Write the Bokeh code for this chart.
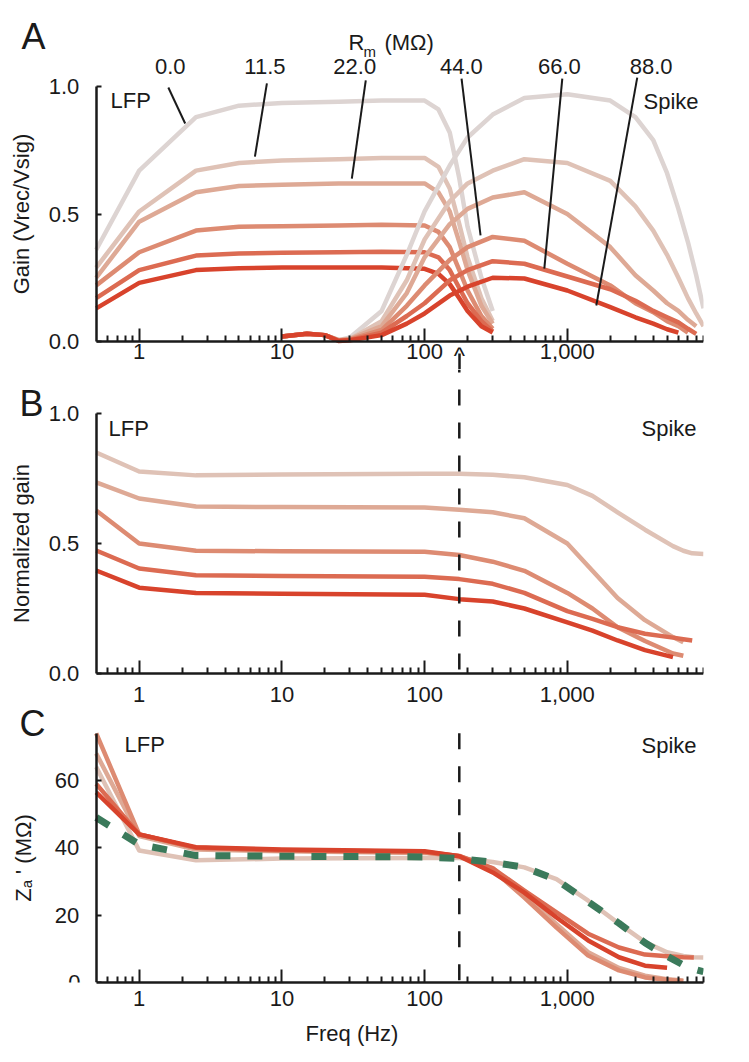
from bokeh.plotting import figure
from bokeh.layouts import column
from bokeh.models import (Range1d, FixedTicker, NumeralTickFormatter, Label, ColumnDataSource,
                          LogAxis, CustomJSTickFormatter)
from bokeh.core.properties import value
from bokeh.embed import file_html
from bokeh.resources import INLINE

nan = float("nan")
FONT = "Liberation Sans"
INK = "#1a1a1a"
FS = "22px"

# ---------------- data ----------------
RM_LABELS = ["0.0", "11.5", "22.0", "44.0", "66.0", "88.0"]
COLORS = ["#ddd4d2", "#dfc2b6", "#dea995", "#dd8b72", "#dc6b52", "#d8432c"]
GREEN = "#3b7a5b"
CUTOFF = 175
X_LEFT, X_RIGHT = 0.1067, 9000
AXIS_X0 = 0.5

X_MAJOR = [1, 10, 100, 1000]
X_MINOR = [0.6, 0.7, 0.8, 0.9, 2, 3, 4, 5, 6, 7, 8, 9, 20, 30, 40, 50, 60, 70, 80, 90,
           200, 300, 400, 500, 600, 700, 800, 900, 2000, 3000, 4000, 5000, 6000, 7000, 8000, 9000]

# Panel A - LFP gain
FREQ_LFP = [0.5, 1, 2.5, 5, 10, 25, 50, 100, 125, 150, 175, 200, 250, 300]
LFP_0_0 = [0.36, 0.67, 0.88, 0.925, 0.935, 0.94, 0.945, 0.945, 0.91, 0.82, 0.64, 0.45, 0.25, 0.12]
LFP_11_5 = [0.29, 0.51, 0.67, 0.70, 0.71, 0.715, 0.72, 0.72, 0.685, 0.60, 0.46, 0.33, 0.17, 0.08]
LFP_22_0 = [0.25, 0.47, 0.585, 0.61, 0.615, 0.62, 0.62, 0.62, 0.585, 0.51, 0.39, 0.28, 0.14, 0.07]
LFP_44_0 = [0.22, 0.35, 0.435, 0.45, 0.452, 0.455, 0.458, 0.455, 0.43, 0.37, 0.28, 0.20, 0.10, 0.05]
LFP_66_0 = [0.17, 0.28, 0.337, 0.345, 0.348, 0.35, 0.352, 0.35, 0.33, 0.28, 0.21, 0.15, 0.08, 0.04]
LFP_88_0 = [0.13, 0.23, 0.28, 0.287, 0.29, 0.29, 0.29, 0.285, 0.265, 0.225, 0.17, 0.12, 0.06, 0.035]

# Panel A - Spike gain
FREQ_SPIKE = [10, 15, 20, 25, 30, 50, 75, 100, 150, 200, 300, 500, 1000, 2000, 3000, 4000,
              5000, 6000, 7000, 8000, 9000]
SPIKE_0_0 = [0.02, 0.03, 0.025, 0.005, 0.016, 0.12, 0.34, 0.51, 0.69, 0.80, 0.89, 0.955, 0.97,
             0.945, 0.88, 0.79, 0.66, 0.52, 0.39, 0.26, 0.13]
SPIKE_11_5 = [0.02, 0.03, 0.025, 0.005, 0.01, 0.08, 0.24, 0.40, 0.55, 0.62, 0.67, 0.715, 0.70,
              0.63, 0.53, 0.435, 0.34, 0.25, 0.17, 0.11, 0.06]
SPIKE_22_0 = [0.02, 0.03, 0.025, 0.005, 0.01, 0.06, 0.19, 0.33, 0.46, 0.52, 0.565, 0.585, 0.50,
              0.37, 0.26, 0.20, 0.15, 0.12, 0.085, 0.06, nan]
SPIKE_44_0 = [0.02, 0.03, 0.025, 0.004, 0.008, 0.045, 0.14, 0.22, 0.32, 0.37, 0.41, 0.395, 0.305,
              0.22, 0.15, 0.115, 0.08, 0.06, 0.035, nan, nan]
SPIKE_66_0 = [0.02, 0.03, 0.025, 0.003, 0.006, 0.035, 0.10, 0.15, 0.24, 0.28, 0.315, 0.305, 0.255,
              0.205, 0.16, 0.12, 0.095, 0.075, 0.05, 0.03, nan]
SPIKE_88_0 = [0.02, 0.03, 0.025, 0.002, 0.005, 0.025, 0.07, 0.11, 0.18, 0.215, 0.25, 0.247, 0.20,
              0.135, 0.095, 0.07, 0.048, 0.035, nan, nan, nan]

# Panel A - R_m annotations (label position and leader line ends)
RM_TEXT_FREQ = [1.65, 7.6, 32.4, 181, 879, 3866]
RM_TEXT_Y = 1.078
LEAD_X0 = [1.6, 7.85, 38.7, 181.5, 922, 3090]
LEAD_Y0 = [0.996, 1.012, 1.024, 1.031, 1.031, 1.035]
LEAD_X1 = [2.1, 6.47, 30.9, 246.6, 690, 1596]
LEAD_Y1 = [0.855, 0.725, 0.639, 0.416, 0.286, 0.141]

# Panel B - normalized gain
FREQ_NORM = [0.5, 1, 2.5, 10, 100, 175, 300, 500, 1000, 1500, 2250, 3500, 5500, 6500, 7500, 9000]
NORM_11_5 = [0.85, 0.777, 0.762, 0.765, 0.768, 0.768, 0.764, 0.755, 0.725, 0.683, 0.62, 0.553,
             0.49, 0.472, 0.462, 0.46]
NORM_22_0 = [0.735, 0.673, 0.642, 0.64, 0.638, 0.63, 0.62, 0.597, 0.50, 0.395, 0.29, 0.205,
             0.14, 0.12, nan, nan]
NORM_44_0 = [0.627, 0.50, 0.472, 0.47, 0.468, 0.456, 0.43, 0.395, 0.31, 0.25, 0.178, 0.125,
             0.077, 0.068, nan, nan]
NORM_66_0 = [0.473, 0.404, 0.378, 0.375, 0.372, 0.363, 0.345, 0.31, 0.24, 0.21, 0.178, 0.153,
             0.138, 0.132, 0.127, nan]
NORM_88_0 = [0.396, 0.33, 0.31, 0.307, 0.303, 0.286, 0.277, 0.25, 0.197, 0.165, 0.127, 0.09,
             0.063, nan, nan, nan]

# Panel C - Za'
FREQ_Z = [0.5, 1, 2.5, 10, 100, 175, 300, 500, 840, 1400, 2300, 3500, 5000, 6500, 7700, 9000]
Z_11_5 = [64, 39.2, 36.3, 36.8, 37, 37, 35.8, 34.2, 30.7, 24.3, 17.5, 12.0, 9.0, 7.9, 7.5, 7.4]
Z_22_0 = [68, 43.5, 39.5, 39, 38.5, 37.5, 34, 26, 17.3, 9.0, 4.3, 2.0, 1.0, 0.6, nan, nan]
Z_44_0 = [74, 44, 40, 39.2, 38.6, 37.5, 33.5, 25.2, 16.3, 8.0, 3.6, 1.5, 0.8, 0.4, nan, nan]
Z_66_0 = [59, 44, 40, 39.3, 38.8, 37.6, 33.9, 27.3, 20.8, 14.5, 10.4, 8.3, 7.8, 7.5, 7.4, nan]
Z_88_0 = [56.5, 44, 40.2, 39.5, 39, 37.5, 32.7, 26.7, 19.3, 12.5, 7.5, 5.0, 4.4, nan, nan, nan]
Z_MODEL = [49, 41, 37.7, 37.5, 37.3, 36.8, 35.7, 34.2, 30.5, 24.0, 17.6, 11.8, 7.8, 5.2, 4.0, 3.2]


# ---------------- helpers ----------------
def make_fig(y_start, y_end, frame_h, bottom=0):
    p = figure(x_axis_type="log", x_range=Range1d(X_LEFT, X_RIGHT), y_range=Range1d(y_start, y_end),
               frame_width=703, frame_height=frame_h,
               min_border_left=0, min_border_right=40, min_border_top=0, min_border_bottom=bottom,
               toolbar_location=None, output_backend="svg")
    p.grid.visible = False
    p.outline_line_color = None
    p.background_fill_color = "white"
    p.border_fill_color = "white"
    return p


def style_axes(p, yticks, yfmt, ybounds, ylabel, ylabel_standoff, x_standoff,
               fixed_x=True, xlabel=None):
    xa = p.xaxis[0]
    if fixed_x:
        xa.fixed_location = 0
    xa.ticker = FixedTicker(ticks=X_MAJOR, minor_ticks=X_MINOR)
    xa.formatter = NumeralTickFormatter(format="0,0")
    xa.bounds = (AXIS_X0, X_RIGHT)
    xa.major_tick_in = 13
    xa.major_tick_out = 0
    xa.minor_tick_in = 6
    xa.minor_tick_out = 0
    xa.axis_line_width = 2.5
    xa.major_tick_line_width = 2
    xa.minor_tick_line_width = 2
    for a in (xa, p.yaxis[0]):
        a.axis_line_color = INK
        a.major_tick_line_color = INK
        a.minor_tick_line_color = INK
        a.major_label_text_font = FONT
        a.major_label_text_font_size = FS
        a.major_label_text_color = INK
        a.axis_label_text_font = FONT
        a.axis_label_text_font_size = FS
        a.axis_label_text_font_style = "normal"
        a.axis_label_text_color = INK
    xa.major_label_standoff = x_standoff
    if xlabel:
        xa.axis_label = xlabel
        xa.axis_label_standoff = 12
    ya = p.yaxis[0]
    ya.fixed_location = AXIS_X0
    ya.ticker = FixedTicker(ticks=yticks)
    ya.formatter = yfmt
    ya.bounds = ybounds
    ya.axis_line_width = 2.5
    ya.major_tick_in = 5
    ya.major_tick_out = 0
    ya.major_tick_line_width = 2
    ya.minor_tick_in = 0
    ya.minor_tick_out = 0
    ya.major_label_standoff = 17
    ya.axis_label = ylabel
    ya.axis_label_standoff = ylabel_standoff


def add_text(p, x, y, txt, size=FS, align="left", baseline="middle"):
    p.add_layout(Label(x=x, y=y, text=txt, text_font=FONT, text_font_size=size, text_color=INK,
                       text_align=align, text_baseline=baseline))


LW = 4.5

# ---------------- Panel A ----------------
pA = make_fig(-0.1098, 1.3373, 369)
style_axes(pA, [0, 0.5, 1.0], NumeralTickFormatter(format="0.0"), (0, 1),
           "Gain (Vrec/Vsig)", 12, 2)
for ys, c in zip([LFP_0_0, LFP_11_5, LFP_22_0, LFP_44_0, LFP_66_0, LFP_88_0], COLORS):
    pA.line(FREQ_LFP, ys, line_color=c, line_width=LW, line_join="round")
for ys, c in zip([SPIKE_0_0, SPIKE_11_5, SPIKE_22_0, SPIKE_44_0, SPIKE_66_0, SPIKE_88_0], COLORS):
    pA.line(FREQ_SPIKE, ys, line_color=c, line_width=LW, line_join="round")
pA.segment(x0=LEAD_X0, y0=LEAD_Y0, x1=LEAD_X1, y1=LEAD_Y1, line_color=INK, line_width=2)
src_rm = ColumnDataSource(dict(x=RM_TEXT_FREQ, y=[RM_TEXT_Y] * len(RM_LABELS), t=RM_LABELS))
pA.text(x="x", y="y", text="t", source=src_rm, text_font=value(FONT), text_font_size=FS,
        text_color=INK, text_align="center", text_baseline="middle")
add_text(pA, 29.3, 1.173, "R")
add_text(pA, 37.3, 1.137, "m", size="15px")
add_text(pA, 52.3, 1.173, "(M\u03a9)")
add_text(pA, 0.629, 0.945, "LFP")
add_text(pA, 3420, 0.94, "Spike")
add_text(pA, 0.182, 1.196, "A", size="36px", align="center")

# caret and first dash below panel A, at the LFP/Spike cut-off frequency
caret_axis = LogAxis(fixed_location=0, ticker=FixedTicker(ticks=[CUTOFF]),
                     formatter=CustomJSTickFormatter(code="return '^';"),
                     axis_line_color=None, major_tick_in=0, major_tick_out=0,
                     minor_tick_in=0, minor_tick_out=0, major_label_standoff=0,
                     major_label_text_font=FONT, major_label_text_font_size="24px",
                     major_label_text_color=INK)
pA.add_layout(caret_axis, "below")
dash_axis = LogAxis(fixed_location=0, ticker=FixedTicker(ticks=[CUTOFF]),
                    formatter=CustomJSTickFormatter(code="return '';"),
                    axis_line_color=None, major_tick_in=0, major_tick_out=28,
                    major_tick_line_color=INK, major_tick_line_width=2.5,
                    major_tick_line_dash="16 17",
                    minor_tick_in=0, minor_tick_out=0, major_label_text_color=None)
pA.add_layout(dash_axis, "below")

# ---------------- Panel B ----------------
B_TOP = 1.1692
pB = make_fig(-0.1308, B_TOP, 338)
style_axes(pB, [0, 0.5, 1.0], NumeralTickFormatter(format="0.0"), (0, 1),
           "Normalized gain", 12, 14)
for ys, c in zip([NORM_11_5, NORM_22_0, NORM_44_0, NORM_66_0, NORM_88_0], COLORS[1:]):
    pB.line(FREQ_NORM, ys, line_color=c, line_width=LW, line_join="round")
pB.segment(x0=[CUTOFF], y0=[B_TOP], x1=[CUTOFF], y1=[0], line_color=INK, line_width=2.5,
           line_dash="16 17", line_dash_offset=13)
add_text(pB, 0.61, 0.942, "LFP")
add_text(pB, 3310, 0.942, "Spike")
add_text(pB, 0.176, 1.038, "B", size="36px", align="center")

# ---------------- Panel C ----------------
C_AXIS_TOP = 74
pC = make_fig(0, 81.68, 275, bottom=72)
style_axes(pC, [0, 20, 40, 60],
           CustomJSTickFormatter(code="return tick == 0 ? '' : tick.toString();"),
           (0, C_AXIS_TOP), "Z\u2090 ' (M\u03a9)", 16, 8, fixed_x=False, xlabel="Freq (Hz)")
for ys, c in zip([Z_11_5, Z_22_0, Z_44_0, Z_66_0, Z_88_0], COLORS[1:]):
    pC.line(FREQ_Z, ys, line_color=c, line_width=LW, line_join="round")
pC.line(FREQ_Z, Z_MODEL, line_color=GREEN, line_width=7, line_dash="15 17")
pC.segment(x0=[CUTOFF], y0=[C_AXIS_TOP], x1=[CUTOFF], y1=[0], line_color=INK, line_width=2.5,
           line_dash="16 17")
add_text(pC, 0.388, 0, "0", align="right", baseline="alphabetic")
add_text(pC, 0.789, 70.7, "LFP")
add_text(pC, 3310, 70.4, "Spike")
add_text(pC, 0.179, 77.0, "C", size="36px", align="center")

layout = column(pA, pB, pC, spacing=0)
open("out.html", "w").write(file_html(layout, INLINE))
